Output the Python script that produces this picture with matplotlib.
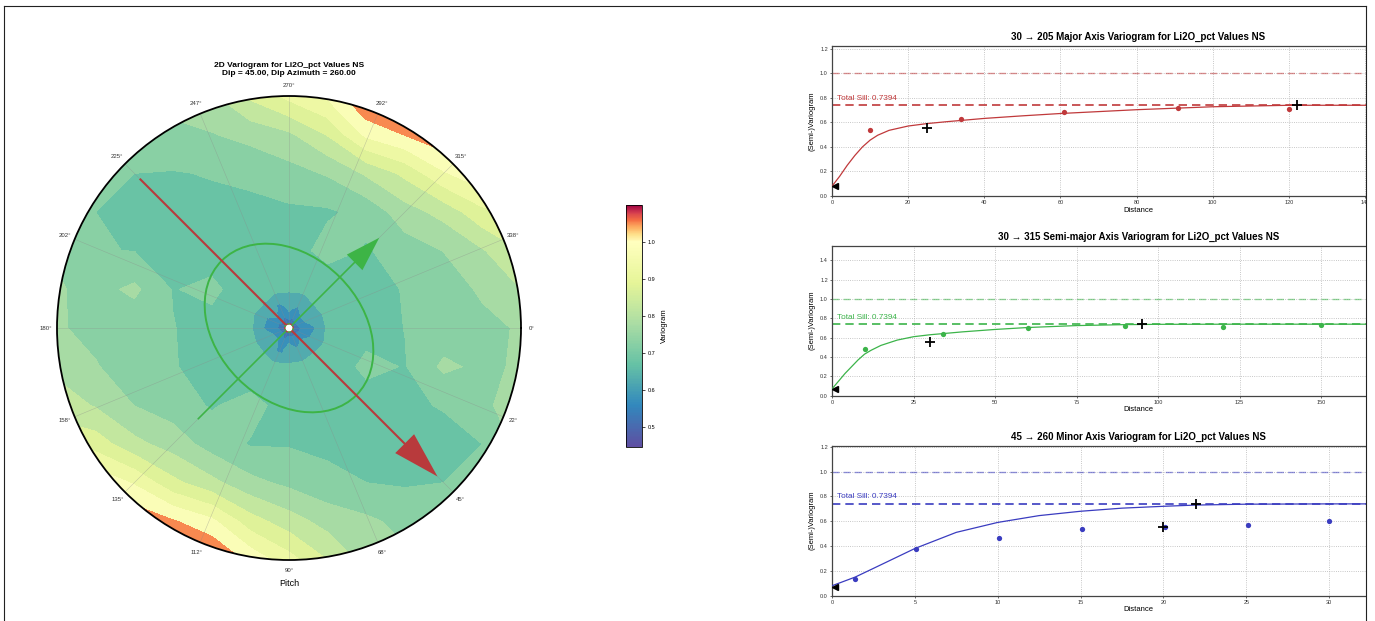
import numpy as np
import matplotlib
matplotlib.use("Agg")
import matplotlib.pyplot as plt
import matplotlib.tri as mtri
import matplotlib.transforms as mtransforms
from matplotlib.colors import ListedColormap, Normalize, TwoSlopeNorm
from matplotlib.patches import Circle, Ellipse, FancyArrow, Rectangle
from matplotlib.lines import Line2D
from matplotlib.cm import ScalarMappable

plt.rcParams['font.family'] = ['Liberation Sans', 'DejaVu Sans']

# ---------------------------------------------------------------- data
# Variogram map on a square lag grid (steps of 1/6 of the plotted radius),
# rows from the top (north) down, columns from west to east.
map_steps = [-6, -5, -4, -3, -2, -1, 0, 1, 2, 3, 4, 5, 6]
map_grid = [
    [0.720, 0.730, 0.740, 0.770, 0.790, 0.860, 0.915, 0.960, 1.060, 1.080, 1.080, 1.040, 1.000],
    [0.715, 0.715, 0.725, 0.737, 0.747, 0.766, 0.790, 0.853, 0.961, 1.002, 1.040, 1.000, 0.980],
    [0.720, 0.710, 0.700, 0.697, 0.703, 0.710, 0.731, 0.755, 0.807, 0.862, 0.944, 0.990, 0.950],
    [0.730, 0.700, 0.693, 0.685, 0.686, 0.688, 0.691, 0.693, 0.715, 0.778, 0.817, 0.886, 0.900],
    [0.745, 0.702, 0.699, 0.690, 0.670, 0.670, 0.672, 0.720, 0.695, 0.725, 0.751, 0.795, 0.850],
    [0.755, 0.734, 0.760, 0.697, 0.715, 0.660, 0.652, 0.662, 0.681, 0.703, 0.727, 0.757, 0.800],
    [0.755, 0.737, 0.719, 0.702, 0.677, 0.652, 0.470, 0.652, 0.677, 0.701, 0.719, 0.737, 0.755],
    [0.785, 0.753, 0.726, 0.703, 0.682, 0.662, 0.652, 0.660, 0.715, 0.697, 0.760, 0.739, 0.757],
    [0.830, 0.795, 0.749, 0.725, 0.695, 0.720, 0.674, 0.670, 0.670, 0.695, 0.702, 0.746, 0.760],
    [0.880, 0.877, 0.814, 0.778, 0.728, 0.696, 0.696, 0.688, 0.685, 0.685, 0.690, 0.700, 0.765],
    [0.950, 0.990, 0.944, 0.863, 0.814, 0.764, 0.738, 0.715, 0.700, 0.695, 0.700, 0.710, 0.730],
    [0.980, 1.000, 1.040, 1.005, 0.962, 0.872, 0.823, 0.780, 0.760, 0.735, 0.730, 0.715, 0.720],
    [1.000, 1.040, 1.080, 1.080, 1.060, 0.985, 0.920, 0.850, 0.780, 0.760, 0.740, 0.730, 0.720],
]
# short-lag core of the map: 16 directions (clockwise from east, 22.5 deg apart)
# by four lag rings (fraction of the plotted radius)
core_lags = [0.05, 0.10, 0.15, 0.20]
core_center_value = 0.47
core_values = [
    [0.550, 0.585, 0.647, 0.665],
    [0.560, 0.600, 0.645, 0.665],
    [0.585, 0.630, 0.649, 0.665],
    [0.565, 0.605, 0.648, 0.665],
    [0.585, 0.630, 0.649, 0.665],
    [0.545, 0.580, 0.645, 0.665],
    [0.585, 0.630, 0.649, 0.665],
    [0.580, 0.625, 0.648, 0.665],
    [0.550, 0.588, 0.647, 0.665],
    [0.555, 0.595, 0.645, 0.665],
    [0.585, 0.630, 0.649, 0.665],
    [0.545, 0.582, 0.645, 0.665],
    [0.580, 0.625, 0.648, 0.665],
    [0.560, 0.600, 0.646, 0.665],
    [0.585, 0.630, 0.651, 0.665],
    [0.580, 0.625, 0.648, 0.665],
]
map_levels = [0.45, 0.5, 0.55, 0.6, 0.65, 0.7, 0.75, 0.8, 0.85, 0.9, 0.95, 1.0, 1.1]
cbar_min, cbar_center, cbar_max = 0.446, 1.0, 1.099
cbar_ticks = [0.5, 0.6, 0.7, 0.8, 0.9, 1.0]
theta_labels = ["0°", "22°", "45°", "68°", "90°", "112°", "135°", "158°",
                "180°", "202°", "225°", "247°", "270°", "292°", "315°", "338°"]

# anisotropy overlay: major (red) and semi-major (green) directions
major_dir_deg = 45
semi_dir_deg = 315
major_arrow = (0.91, 0.905)     # tail, tip (fraction of radius)
semi_arrow = (0.556, 0.55)
ellipse_axes = (0.41, 0.31)

total_sill = 0.7394
struct_gamma = [0.556, 0.7394]

# Major axis (30 -> 205)
major_lag = [10, 34, 61, 91, 120]
major_gamma = [0.54, 0.625, 0.685, 0.715, 0.705]
major_model_lag = [0, 2, 4, 6, 8, 10, 12, 15, 20, 25, 30, 40, 50, 60, 80, 100, 120, 165]
major_model_gamma = [0.08, 0.16, 0.25, 0.33, 0.40, 0.455, 0.495, 0.535, 0.57, 0.59,
                     0.605, 0.632, 0.653, 0.672, 0.703, 0.727, 0.739, 0.7394]
major_struct_range = [25, 122]
major_nugget = (0.8, 0.08)

# Semi-major axis (30 -> 315)
semi_lag = [10, 34, 60, 90, 120, 150]
semi_gamma = [0.483, 0.64, 0.70, 0.72, 0.71, 0.73]
semi_model_lag = [0, 2, 4, 6, 8, 10, 12, 15, 20, 25, 30, 40, 50, 60, 75, 90, 100, 125, 190]
semi_model_gamma = [0.07, 0.15, 0.23, 0.30, 0.37, 0.43, 0.47, 0.52, 0.575, 0.61,
                    0.63, 0.66, 0.685, 0.705, 0.725, 0.735, 0.738, 0.7394, 0.7394]
semi_struct_range = [30, 95]
semi_nugget = (0.9, 0.07)

# Minor axis (45 -> 260)
minor_lag = [1.4, 5.1, 10.1, 15.1, 20.1, 25.1, 30.0]
minor_gamma = [0.134, 0.376, 0.467, 0.534, 0.553, 0.566, 0.601]
minor_model_lag = [0, 1.4, 2.5, 5, 7.5, 10, 12.5, 15, 17.5, 20, 22, 25, 30, 38]
minor_model_gamma = [0.08, 0.15, 0.22, 0.38, 0.51, 0.59, 0.645, 0.68, 0.705, 0.72,
                     0.73, 0.737, 0.7394, 0.7394]
minor_struct_range = [20, 22]
minor_nugget = (0.18, 0.067)

# ---------------------------------------------------------------- figure
W, H = 1375, 621
fig = plt.figure(figsize=(W / 100, H / 100), dpi=100)


def px_rect(x0, y0, x1, y1):
    """Figure-fraction rect from a pixel box (top-left origin)."""
    return [x0 / W, 1 - y1 / H, (x1 - x0) / W, (y1 - y0) / H]


# Spectral_r bent around the unit sill, shown on a linear colour bar
base = plt.get_cmap('Spectral_r')
warp = TwoSlopeNorm(vcenter=cbar_center, vmin=cbar_min, vmax=cbar_max)
cmap = ListedColormap(base(warp(np.linspace(cbar_min, cbar_max, 512))))
norm = Normalize(cbar_min, cbar_max)

cx, cy, R = 289, 328, 232
rect = px_rect(cx - R, cy - R, cx + R, cy + R)

# map layer
ax_map = fig.add_axes(rect)
ax_map.set_xlim(-1, 1)
ax_map.set_ylim(-1, 1)
ax_map.axis('off')
steps = np.array(map_steps) / 6.0
gx, gy = np.meshgrid(steps, -steps)
cs = ax_map.contourf(gx, gy, np.array(map_grid), levels=map_levels, cmap=cmap, norm=norm)
cs.set_clip_path(Circle((0, 0), 1.0, transform=ax_map.transData))

# short-lag core drawn over the centre of the map
kx, ky, kz = [0.0], [0.0], [core_center_value]
for k, row in enumerate(core_values):
    ang = np.deg2rad(22.5 * k)
    for lag, v in zip(core_lags, row):
        kx.append(lag * np.cos(ang))
        ky.append(-lag * np.sin(ang))
        kz.append(v)
ax_map.tricontourf(mtri.Triangulation(kx, ky), kz, levels=map_levels,
                   cmap=cmap, norm=norm, zorder=2)

# polar frame with direction labels
ax_pol = fig.add_axes(rect, projection='polar', facecolor='none')
ax_pol.set_theta_zero_location('E')
ax_pol.set_theta_direction(-1)
ax_pol.set_ylim(0, 1)
ax_pol.set_yticks([])
ax_pol.set_xticks(np.deg2rad(np.arange(0, 360, 22.5)))
ax_pol.set_xticklabels(theta_labels, fontsize=4.3, color='#333333')
ax_pol.tick_params(axis='x', pad=0.8, length=0)
ax_pol.grid(True, color='#8a8a8a', lw=0.4, alpha=0.45)
ax_pol.spines['polar'].set_linewidth(1.3)
ax_pol.spines['polar'].set_color('black')

# overlay for arrows / ellipse
ax_top = fig.add_axes(rect, facecolor='none')
ax_top.set_xlim(-1, 1)
ax_top.set_ylim(-1, 1)
ax_top.axis('off')


def unit(deg):
    a = np.deg2rad(deg)
    return np.cos(a), -np.sin(a)


red = '#b83a3c'
green = '#3db446'
ux, uy = unit(major_dir_deg)
t0, t1 = -major_arrow[0], major_arrow[1]
ax_top.add_patch(FancyArrow(t0 * ux, t0 * uy, (t1 - t0) * ux, (t1 - t0) * uy,
                            width=0.009, head_width=0.115, head_length=0.2,
                            length_includes_head=True, color=red, lw=0, zorder=4))
vx, vy = unit(semi_dir_deg)
s0, s1 = -semi_arrow[0], semi_arrow[1]
ax_top.add_patch(FancyArrow(s0 * vx, s0 * vy, (s1 - s0) * vx, (s1 - s0) * vy,
                            width=0.007, head_width=0.095, head_length=0.15,
                            length_includes_head=True, color=green, lw=0, zorder=3))
ax_top.add_patch(Ellipse((0, 0), 2 * ellipse_axes[0], 2 * ellipse_axes[1], angle=-major_dir_deg,
                         fill=False, ec=green, lw=1.4, zorder=3))
ax_top.add_patch(Circle((0, 0), 0.018, fc='white', ec=red, lw=1.0, zorder=5))
ax_top.add_patch(Circle((0, 0), 0.018, fc='none', ec=green, lw=1.0, ls=(0, (1.5, 1.5)), zorder=6))

fig.text(cx / W, 1 - 77 / H, "2D Variogram for Li2O_pct Values NS\nDip = 45.00, Dip Azimuth = 260.00",
         ha='center', va='bottom', fontsize=6, fontweight='bold', linespacing=1.15)
fig.text(cx / W, 1 - 583 / H, "Pitch", ha='center', va='center', fontsize=6.5)

# colour bar
cax = fig.add_axes(px_rect(626, 205, 642, 447))
cb = fig.colorbar(ScalarMappable(norm=norm, cmap=cmap), cax=cax, ticks=cbar_ticks)
cb.ax.tick_params(labelsize=4, length=2, width=0.5, pad=2)
cb.ax.set_yticklabels([f"{t:.1f}" for t in cbar_ticks])
cb.outline.set_linewidth(0.6)
cb.set_label("Variogram", fontsize=5.5, labelpad=4)

# ---------------------------------------------------------------- profiles
panels = [
    dict(box=(832, 45.5, 1445, 196), xlim=161.0, ylim=1.226, yticks=[0, 0.2, 0.4, 0.6, 0.8, 1.0, 1.2],
         xticks=[0, 20, 40, 60, 80, 100, 120, 140], color='#c0393b',
         title="30 \u2192 205 Major Axis Variogram for Li2O_pct Values NS",
         lag=major_lag, gamma=major_gamma, mlag=major_model_lag, mgamma=major_model_gamma,
         ranges=major_struct_range, nug=major_nugget),
    dict(box=(832, 245.7, 1445, 395.7), xlim=188.0, ylim=1.551,
         yticks=[0, 0.2, 0.4, 0.6, 0.8, 1.0, 1.2, 1.4],
         xticks=[0, 25, 50, 75, 100, 125, 150], color='#3cb44a',
         title="30 \u2192 315 Semi-major Axis Variogram for Li2O_pct Values NS",
         lag=semi_lag, gamma=semi_gamma, mlag=semi_model_lag, mgamma=semi_model_gamma,
         ranges=semi_struct_range, nug=semi_nugget),
    dict(box=(832, 445.7, 1445, 595.7), xlim=37.0, ylim=1.208, yticks=[0, 0.2, 0.4, 0.6, 0.8, 1.0, 1.2],
         xticks=[0, 5, 10, 15, 20, 25, 30], color='#3a3cc0',
         title="45 \u2192 260 Minor Axis Variogram for Li2O_pct Values NS",
         lag=minor_lag, gamma=minor_gamma, mlag=minor_model_lag, mgamma=minor_model_gamma,
         ranges=minor_struct_range, nug=minor_nugget),
]

for p in panels:
    ax = fig.add_axes(px_rect(*p['box']))
    c = p['color']
    ax.set_xlim(0, p['xlim'])
    ax.set_ylim(0, p['ylim'])
    ax.set_xticks(p['xticks'])
    ax.set_yticks(p['yticks'])
    ax.set_yticklabels([f"{t:.1f}" for t in p['yticks']])
    ax.grid(True, ls=':', color='#b5b5b5', lw=0.6)
    ax.set_axisbelow(True)
    ax.tick_params(labelsize=4, length=1.5, width=0.5, pad=1.5, colors='#333333')
    for s in ax.spines.values():
        s.set_linewidth(0.9)
        s.set_color('#444444')
    ax.axhline(1.0, color=c, alpha=0.55, lw=1.0, ls=(0, (5, 3)))
    ax.axhline(total_sill, color=c, lw=1.2, ls=(0, (5, 3)))
    ax.plot(p['mlag'], p['mgamma'], color=c, lw=0.9, zorder=3)
    ax.plot(p['lag'], p['gamma'], 'o', color=c, ms=3.8, mec='none', zorder=4)
    ax.plot(p['ranges'], struct_gamma, '+', color='black', ms=6.5, mew=1.3, zorder=5)
    ax.plot([p['nug'][0]], [p['nug'][1]], '<', color='black', ms=4.5, mec='black', zorder=5)
    trans = mtransforms.blended_transform_factory(ax.transAxes, ax.transData)
    ax.annotate(f"Total Sill: {total_sill:.4f}", xy=(0.008, total_sill), xycoords=trans,
                xytext=(0, 2.5), textcoords='offset points', color=c, fontsize=5.9,
                ha='left', va='bottom')
    ax.set_title(p['title'], fontsize=7, fontweight='bold', pad=4)
    ax.set_xlabel("Distance", fontsize=5.5, labelpad=1)
    ax.set_ylabel("(Semi-)Variogram", fontsize=5.5, labelpad=3)

# window edge: everything right of the frame is blank
fig.patches.append(Rectangle((1366 / W, 0), 1, 1, transform=fig.transFigure,
                             fc='white', ec='none', zorder=50))
for xs_, ys_ in [([4, 1366], [6, 6]), ([4, 4], [6, 621]), ([1366, 1366], [6, 621])]:
    fig.lines.append(Line2D([v / W for v in xs_], [1 - v / H for v in ys_],
                            transform=fig.transFigure, color='#222222', lw=0.8, zorder=60))

fig.savefig("out.png", dpi=100)
